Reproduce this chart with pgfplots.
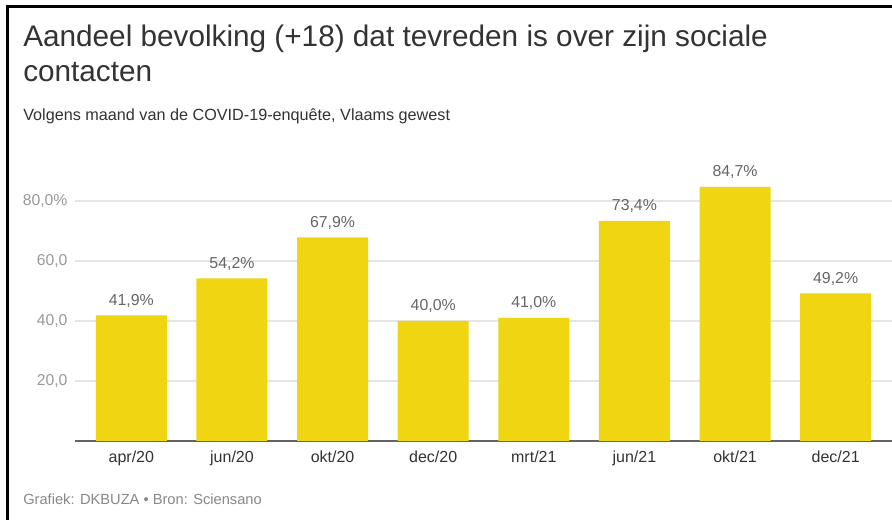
\documentclass[border=0pt]{standalone}
\usepackage{fontspec}
\setmainfont{Liberation Sans}
\usepackage{pgfplots}
\pgfplotsset{compat=1.18}
\definecolor{baryellow}{RGB}{240,214,18}
\definecolor{txtdark}{RGB}{51,51,51}
\definecolor{valgrey}{RGB}{102,102,102}
\definecolor{tickgrey}{RGB}{153,153,153}
\definecolor{footgrey}{RGB}{136,136,136}
\definecolor{gridgrey}{RGB}{229,229,229}
\definecolor{axisgrey}{RGB}{100,100,100}
\begin{document}
\begin{tikzpicture}
\path[use as bounding box] (0,0) rectangle (669pt,390pt);
\fill[white] (0,0) rectangle (669pt,390pt);
\begin{axis}[
  at={(56.25pt,59.25pt)}, anchor=south west,
  scale only axis, width=612.75pt, height=202.5pt,
  xmin=-0.56, xmax=7.56, ymin=0, ymax=90,
  axis x line*=bottom, axis y line*=left,
  y axis line style={draw=none},
  x axis line style={-, draw=axisgrey, line width=1.1pt},
  major tick length=0pt,
  ytick={20,40,60,80},
  yticklabels={{20,0},{40,0},{60,0},{80,0\%}},
  yticklabel style={anchor=east, inner sep=0pt, xshift=-5.5pt, text=tickgrey, font=\fontsize{11.8}{14}\selectfont},
  ymajorgrids, grid style={draw=gridgrey, line width=0.8pt},
  xtick={0,1,2,3,4,5,6,7},
  xticklabels={apr/20,jun/20,okt/20,dec/20,mrt/21,jun/21,okt/21,dec/21},
  xticklabel style={anchor=base, inner sep=0pt, yshift=-16.5pt, text=txtdark, font=\fontsize{12}{14}\selectfont},
  ybar, bar width=53.25pt,
  nodes near coords,
  point meta=explicit symbolic,
  every node near coord/.append style={anchor=base, inner sep=0pt, yshift=7.5pt, text=valgrey, font=\fontsize{11.9}{14}\selectfont},
]
\addplot[fill=baryellow, draw=none] coordinates {
  (0,41.9) [41,9\%]
  (1,54.2) [54,2\%]
  (2,67.9) [67,9\%]
  (3,40.0) [40,0\%]
  (4,41.0) [41,0\%]
  (5,73.4) [73,4\%]
  (6,84.7) [84,7\%]
  (7,49.2) [49,2\%]
};
\end{axis}
\node[anchor=base west, inner sep=0pt, text=txtdark, font=\fontsize{22.3}{26}\selectfont] at (17.25pt,355pt) {Aandeel bevolking (+18) dat tevreden is over zijn sociale};
\node[anchor=base west, inner sep=0pt, text=txtdark, font=\fontsize{22.3}{26}\selectfont] at (17.25pt,328.5pt) {contacten};
\node[anchor=base west, inner sep=0pt, text=txtdark, font=\fontsize{12.15}{14}\selectfont] at (17.25pt,299.25pt) {Volgens maand van de COVID-19-enquête, Vlaams gewest};
\node[anchor=base west, inner sep=0pt, text=footgrey, font=\fontsize{11}{13}\selectfont] at (17.25pt,11.25pt) {Grafiek: DKBUZA • Bron: Sciensano};
\draw[black, line width=1.6pt] (5.6pt,0) -- (5.6pt,385.1pt) -- (669pt,385.1pt);
\end{tikzpicture}
\end{document}
